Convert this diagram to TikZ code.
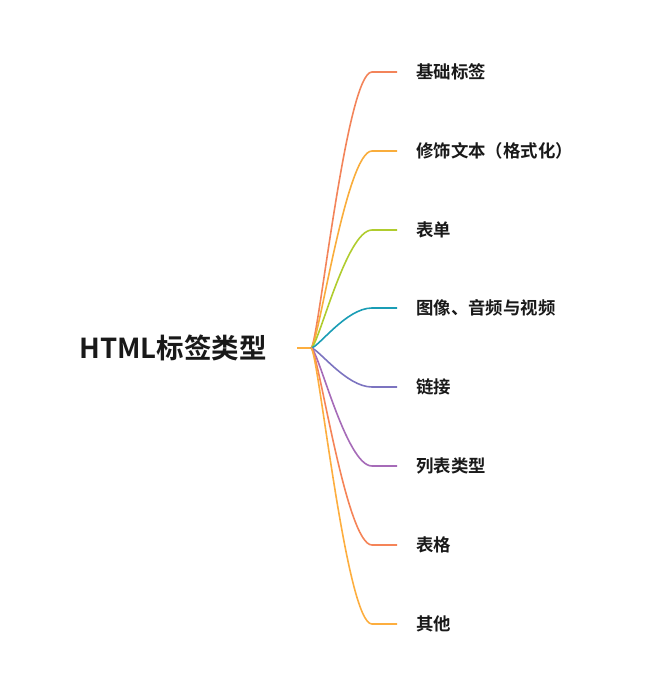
\documentclass[tikz,border=0pt]{standalone}
\usepackage{fontspec}
\setmainfont{Noto Sans CJK SC}[BoldFont={* Bold}]
\definecolor{c1}{HTML}{F3845A}
\definecolor{c2}{HTML}{F9AD3C}
\definecolor{c3}{HTML}{B0CC2E}
\definecolor{c4}{HTML}{1A9DB5}
\definecolor{c5}{HTML}{7C74C0}
\definecolor{c6}{HTML}{A66BB8}
\definecolor{c7}{HTML}{F58458}
\definecolor{c8}{HTML}{FDAE3F}
\begin{document}
\begin{tikzpicture}[x=1pt,y=-1pt,
  link/.style={line width=1.6pt},
  leaf/.style={anchor=west,inner sep=0pt,font=\fontsize{17.4}{19}\selectfont\bfseries,text=black!90},
  rootlbl/.style={anchor=west,inner sep=0pt,font=\fontsize{27.5}{29}\selectfont\bfseries,text=black!90}]
\useasboundingbox (0,0) rectangle (645,697);
\node[rootlbl] (root) at (79,348) {HTML标签类型};
\coordinate (r0) at (297,348);
\coordinate (o) at (311,348);
\draw[link,c8] (r0) -- (o);
\foreach \i/\y/\c/\t in {1/72/c1/基础标签,2/151/c2/修饰文本（格式化）,3/230/c3/表单,4/308/c4/图像、音频与视频,5/387/c5/链接,6/466/c6/列表类型,7/545/c7/表格,8/624/c8/其他}{
  \coordinate (e\i) at (372,\y);
  \coordinate (f\i) at (397,\y);
  \node[leaf] (n\i) at (416,\y) {\t};
  \draw[link,\c] (o) .. controls (318,348) and (346,\y) .. (e\i) -- (f\i);
}
\end{tikzpicture}
\end{document}
